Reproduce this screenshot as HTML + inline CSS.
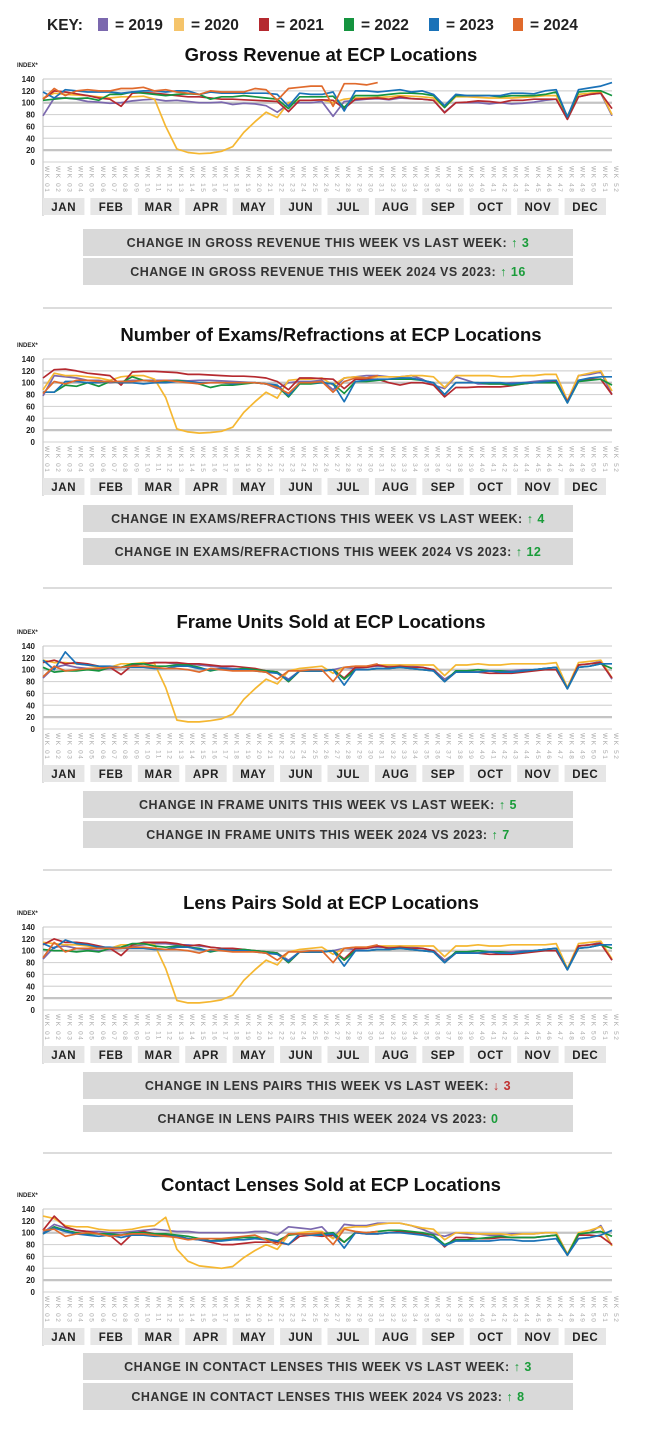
<!DOCTYPE html>
<html><head><meta charset="utf-8"><style>
html,body{margin:0;padding:0;background:#fff;}
svg{display:block;font-family:"Liberation Sans",sans-serif;}
</style></head><body>
<svg id="page" width="650" height="1433" viewBox="0 0 650 1433" xmlns="http://www.w3.org/2000/svg">
<g id="key" font-weight="bold" font-size="15.5" fill="#222">
<text x="47" y="30">KEY:</text>
<rect x="98" y="18" width="10" height="13" fill="#7b68ae"/><text x="115" y="30">= 2019</text>
<rect x="174" y="18" width="10" height="13" fill="#f5c46a"/><text x="191" y="30">= 2020</text>
<rect x="259" y="18" width="10" height="13" fill="#b5292f"/><text x="276" y="30">= 2021</text>
<rect x="344" y="18" width="10" height="13" fill="#15943f"/><text x="361" y="30">= 2022</text>
<rect x="429" y="18" width="10" height="13" fill="#1a72b8"/><text x="446" y="30">= 2023</text>
<rect x="513" y="18" width="10" height="13" fill="#e06a2c"/><text x="530" y="30">= 2024</text>
</g>
</svg>
<script>
const years = ["2019","2020","2021","2022","2023","2024"];
const yearColors = ["#7b68ae","#f5b731","#b5292f","#15943f","#1a72b8","#e06a2c"];
const months = ["JAN","FEB","MAR","APR","MAY","JUN","JUL","AUG","SEP","OCT","NOV","DEC"];
const yTicks = [0,20,40,60,80,100,120,140];
const weekLabels = Array.from({length:52},(_, i)=>"WK "+String(i+1).padStart(2,"0"));

const rev2019=[78,108,108,106,102,101,99,100,103,105,106,103,104,102,100,100,101,97,99,98,95,84,98,100,100,102,77,102,104,106,107,105,108,107,106,104,84,100,100,100,98,100,98,99,101,104,106,72,110,114,116,78];
const rev2020=[108,116,114,113,112,110,108,110,110,111,106,60,22,16,14,15,18,26,50,68,84,75,100,104,104,105,100,106,108,108,109,110,112,111,110,108,92,110,110,109,108,108,108,109,110,112,112,78,114,116,118,80];
const rev2021=[106,120,118,115,112,108,106,94,116,117,116,114,112,110,110,108,106,106,105,104,103,102,85,104,104,105,104,90,106,107,108,106,110,107,106,104,83,100,101,103,102,100,104,104,106,106,106,72,110,114,116,90];
const rev2022=[104,106,108,107,108,104,114,114,118,116,114,112,114,115,114,106,110,110,112,110,108,106,90,110,110,110,111,92,112,112,112,114,116,116,115,112,92,112,112,112,112,110,112,112,112,114,118,76,118,120,120,112];
const rev2023=[118,108,122,120,118,118,118,116,118,120,120,118,120,120,114,118,116,116,116,116,116,114,94,116,114,114,118,86,120,120,118,120,122,118,120,114,95,114,112,112,112,112,116,116,115,120,122,76,122,125,128,134];
const rev2024=[106,124,112,120,122,120,120,124,124,126,120,122,118,116,114,120,118,118,118,124,122,104,124,126,128,128,94,132,132,130,134];

const exa2019=[78,112,110,108,104,104,100,102,104,104,104,104,104,103,104,104,103,102,101,100,98,90,100,102,102,104,88,108,110,112,112,110,110,112,106,96,90,110,104,98,98,98,100,100,102,104,104,68,112,114,118,80];
const exa2020=[88,116,112,112,110,108,104,110,112,112,106,75,22,17,15,16,18,25,50,68,84,74,104,106,106,108,96,108,110,108,110,110,110,112,112,110,92,112,112,112,112,110,110,112,112,114,114,70,112,116,120,86];
const exa2021=[108,122,123,120,116,114,112,96,118,119,119,118,117,114,114,113,112,111,111,110,108,102,88,108,108,107,106,90,106,106,106,100,96,100,100,96,76,92,92,93,93,93,95,98,100,101,102,68,104,106,106,80];
const exa2022=[84,84,96,94,100,94,102,100,110,104,102,102,104,102,98,92,96,96,98,100,98,94,76,98,98,100,98,82,102,102,104,106,106,106,104,100,80,100,100,100,98,98,96,98,100,100,100,66,102,104,106,96];
const exa2023=[84,84,102,102,100,100,102,100,100,98,100,100,102,102,100,100,100,98,100,100,98,96,78,100,100,100,98,68,102,104,106,106,108,108,104,100,80,100,100,100,100,100,98,100,100,102,104,66,104,108,110,110];
const exa2024=[82,102,98,104,104,102,102,102,102,104,102,104,102,100,98,100,100,100,100,100,98,92,82,100,100,102,84,102,108,108,112];

const fra2019=[86,104,108,104,102,100,102,104,108,110,112,112,110,110,108,106,104,102,100,100,98,96,84,98,98,98,100,104,102,104,106,106,108,106,104,100,84,96,96,96,98,98,98,100,100,102,104,68,108,110,114,84];
const fra2020=[116,112,112,110,108,104,104,110,110,112,110,70,15,12,12,14,17,25,50,68,84,76,98,102,104,106,94,104,106,106,108,108,108,108,108,108,90,108,108,110,108,108,110,110,110,110,112,70,112,114,116,86];
const fra2021=[112,116,110,112,110,106,104,92,108,110,112,112,112,110,110,108,106,106,104,102,98,96,80,98,98,98,100,86,104,104,108,104,106,104,104,100,80,96,96,96,94,94,94,96,98,100,100,68,108,110,112,86];
const fra2022=[104,96,98,98,100,98,104,104,110,110,106,106,108,108,104,98,102,100,102,100,98,96,80,98,98,98,100,84,100,100,102,102,104,102,100,98,80,98,98,100,98,98,96,98,100,102,104,68,104,106,110,102];
const fra2023=[116,100,130,110,108,106,106,104,104,104,102,102,106,106,102,100,102,100,100,98,96,94,82,98,98,98,100,74,100,100,102,102,104,102,100,98,80,96,96,96,98,96,96,98,100,102,104,68,104,106,110,110];
const fra2024=[88,106,98,100,102,102,104,104,106,106,104,102,102,100,96,102,100,98,98,98,96,84,98,98,100,100,80,104,106,106,110];

const len2019=[86,106,108,104,102,100,102,104,108,110,112,112,110,110,108,106,104,102,100,100,98,96,84,98,98,98,100,104,102,104,106,106,108,106,104,100,84,96,96,96,98,98,98,100,100,102,104,68,108,110,114,84];
const len2020=[114,112,110,110,108,104,104,110,110,112,110,70,16,12,12,14,17,25,50,68,84,76,98,102,104,106,94,104,106,106,108,108,108,108,108,108,90,108,108,110,108,108,110,110,110,110,112,70,112,114,116,86];
const len2021=[110,120,114,114,112,108,104,92,110,114,114,114,112,108,110,106,104,104,102,100,98,96,80,98,98,98,100,86,104,104,108,104,106,104,104,100,80,96,96,96,94,94,94,96,98,100,100,68,108,110,112,84];
const len2022=[102,100,100,98,100,98,104,106,112,112,108,106,108,106,104,98,102,100,102,100,98,96,80,98,98,98,100,84,100,100,102,102,104,102,100,98,80,98,98,100,98,98,96,98,100,102,104,68,104,106,110,104];
const len2023=[112,104,118,112,110,106,106,104,104,104,102,102,106,106,102,100,102,100,100,98,96,94,82,98,98,98,100,74,100,100,102,102,104,102,100,98,80,96,96,96,98,96,96,98,100,102,104,68,104,106,110,110];
const len2024=[88,114,98,104,104,104,104,104,106,106,104,102,102,100,96,102,100,98,98,98,96,84,98,98,100,100,80,104,106,106,110];

const con2019=[100,114,108,104,102,102,100,100,102,104,106,104,102,102,100,100,100,100,100,102,102,96,110,108,106,110,90,114,112,112,116,116,116,112,106,98,94,100,98,98,96,96,98,98,98,100,100,64,98,100,112,78];
const con2020=[128,124,112,110,110,106,104,104,106,110,112,126,72,52,44,42,40,43,58,70,80,72,96,100,102,102,90,108,110,110,114,116,116,112,108,106,88,100,100,98,98,98,96,98,98,100,100,64,100,104,110,78];
const con2021=[104,128,110,104,102,98,96,80,98,102,98,96,94,90,88,84,80,80,82,84,84,84,80,94,96,94,96,84,100,98,98,100,102,100,98,96,76,92,92,90,90,92,92,92,92,94,96,62,96,96,94,80];
const con2022=[98,110,104,100,98,98,98,96,100,100,98,98,96,94,90,86,88,90,92,92,90,86,96,98,98,98,100,84,100,100,102,104,104,102,100,96,80,88,88,90,92,94,92,92,92,94,96,62,98,100,102,94];
const con2023=[98,108,102,98,96,94,96,92,96,96,94,94,94,90,88,86,86,88,88,90,88,86,80,98,96,96,98,74,100,98,98,100,100,98,96,92,78,86,86,86,86,88,88,86,86,88,90,62,90,92,96,104];
const con2024=[104,106,94,98,100,98,94,96,98,98,96,94,92,88,90,90,90,92,94,96,88,80,98,98,98,100,80,106,102,100,102];

const charts=[
 {name:"gross-revenue",title:"Gross Revenue at ECP Locations",o:0,series:[rev2019,rev2020,rev2021,rev2022,rev2023,rev2024],
  c1:"CHANGE IN GROSS REVENUE THIS WEEK VS LAST WEEK:",a1:"↑ 3",k1:"#1a9c3a",c2:"CHANGE IN GROSS REVENUE THIS WEEK 2024 VS 2023:",a2:"↑ 16",k2:"#1a9c3a",b1:229,b2:258},
 {name:"exams",title:"Number of Exams/Refractions at ECP Locations",o:280,series:[exa2019,exa2020,exa2021,exa2022,exa2023,exa2024],
  c1:"CHANGE IN EXAMS/REFRACTIONS THIS WEEK VS LAST WEEK:",a1:"↑ 4",k1:"#1a9c3a",c2:"CHANGE IN EXAMS/REFRACTIONS THIS WEEK 2024 VS 2023:",a2:"↑ 12",k2:"#1a9c3a",b1:505,b2:538},
 {name:"frame-units",title:"Frame Units Sold at ECP Locations",o:567,series:[fra2019,fra2020,fra2021,fra2022,fra2023,fra2024],
  c1:"CHANGE IN FRAME UNITS THIS WEEK VS LAST WEEK:",a1:"↑ 5",k1:"#1a9c3a",c2:"CHANGE IN FRAME UNITS THIS WEEK 2024 VS 2023:",a2:"↑ 7",k2:"#1a9c3a",b1:791,b2:821},
 {name:"lens-pairs",title:"Lens Pairs Sold at ECP Locations",o:848,series:[len2019,len2020,len2021,len2022,len2023,len2024],
  c1:"CHANGE IN LENS PAIRS THIS WEEK VS LAST WEEK:",a1:"↓ 3",k1:"#c0302f",c2:"CHANGE IN LENS PAIRS THIS WEEK 2024 VS 2023:",a2:"0",k2:"#1a9c3a",b1:1072,b2:1105},
 {name:"contact-lenses",title:"Contact Lenses Sold at ECP Locations",o:1130,series:[con2019,con2020,con2021,con2022,con2023,con2024],
  c1:"CHANGE IN CONTACT LENSES THIS WEEK VS LAST WEEK:",a1:"↑ 3",k1:"#1a9c3a",c2:"CHANGE IN CONTACT LENSES THIS WEEK 2024 VS 2023:",a2:"↑ 8",k2:"#1a9c3a",b1:1353,b2:1383}
];
const separators=[308,588,870,1153];

const NS="http://www.w3.org/2000/svg";
const svg=document.getElementById("page");
function mk(tag,attrs,parent){const e=document.createElementNS(NS,tag);for(const k in attrs)e.setAttribute(k,attrs[k]);(parent||svg).appendChild(e);return e;}
const X0=43,X1=612;
function xScale(i){return X0+i*(X1-X0)/51;}
function yScale(v,o){return (162+o)-v*(83/140);}

separators.forEach(y=>{
 const l=mk("line",{x1:43,x2:612,y1:y,y2:y,stroke:"#c8c8c8","stroke-width":1.2});
 
 
});

charts.forEach(ch=>{
 const o=ch.o;
 const g=mk("g",{});
 
 
 const t=mk("text",{x:331,y:61+o,"text-anchor":"middle","font-size":18.5,"font-weight":"bold",fill:"#111"},g);
 t.textContent=ch.title;
 
 
 const ix=mk("text",{x:17,y:67+o,"font-size":6,"font-weight":"bold",fill:"#222"},g);
 ix.textContent="INDEX*";
 
 
 yTicks.forEach(v=>{
  const y=yScale(v,o);
  if(v>0){const gl=mk("line",{x1:X0,x2:X1,y1:y,y2:y,stroke:(v===100||v===20)?"#c4c4c4":"#d4d4d4","stroke-width":(v===100||v===20)?2.2:1.2},g);
  
  }
  const tl=mk("text",{x:35,y:y+3,"text-anchor":"end","font-size":8,"font-weight":"bold",fill:"#222"},g);
  tl.textContent=v;
  
  
 });
 const ax=mk("line",{x1:X0,x2:X0,y1:79+o,y2:216+o,stroke:"#c8c8c8","stroke-width":1.2},g);
 
 
 const bx=mk("line",{x1:X0,x2:X1,y1:162+o,y2:162+o,stroke:"#d0d0d0","stroke-width":1},g);
 
 
 weekLabels.forEach((w,i)=>{
  const x=xScale(i)+2;
  const wl=mk("text",{x:x,y:166+o,"font-size":6.5,fill:"#aaa","letter-spacing":"1.6",transform:`rotate(90 ${x} ${166+o})`},g);
  wl.textContent=w;
  
  
 });
 const mw=(X1-X0)/12;
 months.forEach((m,i)=>{
  const r=mk("rect",{x:X0+i*mw,y:198+o,width:mw-6,height:17,fill:"#e6e6e6"},g);
  
  
  const mt=mk("text",{x:X0+i*mw+(mw-6)/2,y:211+o,"text-anchor":"middle","font-size":11.5,"font-weight":"bold",fill:"#222","letter-spacing":"0.6"},g);
  mt.textContent=m;
  
  
 });
 ch.series.forEach((arr,si)=>{
  const pts=arr.slice(0,52).map((v,i)=>xScale(i).toFixed(1)+","+yScale(v,o).toFixed(1)).join(" ");
  const pl=mk("polyline",{points:pts,fill:"none",stroke:yearColors[si],"stroke-width":1.7,"stroke-linejoin":"round"},g);
  
  
 });
 [[ch.b1,ch.c1,ch.a1,ch.k1,'weekly-change'],[ch.b2,ch.c2,ch.a2,ch.k2,'yearly-change']].forEach(b=>{
  const r=mk("rect",{x:83,y:b[0],width:490,height:27,fill:"#d9d9d9"},g);
  
  
  const tx=mk("text",{x:328,y:b[0]+18,"text-anchor":"middle","font-size":12.5,"font-weight":"bold",fill:"#333","letter-spacing":"0.5"},g);
  
  
  tx.appendChild(document.createTextNode(b[1]+"  "));
  const sp=mk("tspan",{fill:b[3]},tx);
  sp.textContent=b[2];
  
  
 });
});
</script>
</body></html>
